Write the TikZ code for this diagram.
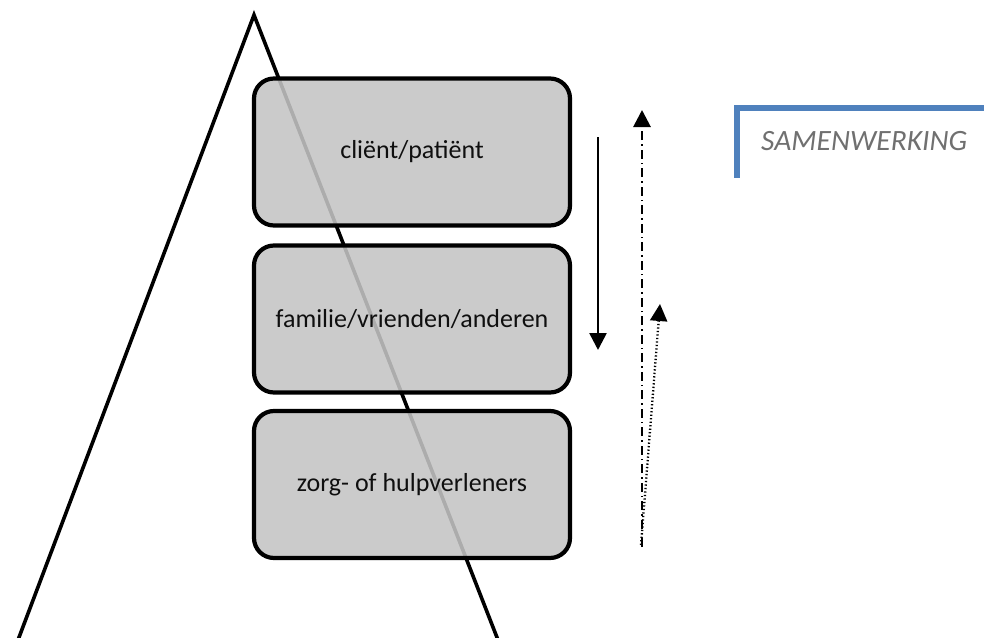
\documentclass[tikz,border=0pt]{standalone}
\usepackage{fontspec}
\setmainfont{Carlito}
\usetikzlibrary{arrows.meta}
\definecolor{boxgray}{RGB}{196,196,196}
\definecolor{txtdark}{RGB}{15,15,15}
\definecolor{labgray}{RGB}{112,112,112}
\definecolor{accentblue}{RGB}{79,129,189}
\tikzset{
  tri/.style={line width=3.6pt, line join=miter},
  levelbox/.style={draw=black, line width=4.2pt, fill=boxgray, fill opacity=0.88, text opacity=1,
    rounded corners=20pt, minimum width=316pt, minimum height=147pt, inner sep=0pt,
    text=txtdark, font=\fontsize{26}{30}\selectfont},
  head/.style={-{Triangle[length=17pt,width=17pt]}},
  flowsolid/.style={head, line width=2.6pt},
  flowdashdot/.style={head, line width=2.8pt, dash pattern=on 9pt off 4pt on 1.5pt off 4pt},
  flowdot/.style={head, line width=2.3pt, dash pattern=on 1.3pt off 2.2pt},
  tag/.style={text=labgray, font=\fontsize{29.5}{33}\selectfont\itshape, inner sep=0pt},
  bracket/.style={draw=accentblue, line cap=butt}
}
\begin{document}
\begin{tikzpicture}[x=1pt,y=-1pt]
\useasboundingbox (0,0) rectangle (984,637);
% pyramid
\coordinate (apex) at (254,15);
\coordinate (bl) at (18,640);
\coordinate (br) at (498,640);
\draw[tri] (bl) -- (apex) -- (br);
% boxes
\node[levelbox] (b1) at (412,152) {\raisebox{-2pt}{cliënt/patiënt}};
\node[levelbox] (b2) at (412,319) {\raisebox{-2pt}{familie/vrienden/anderen}};
\node[levelbox] (b3) at (412,484.5) {\raisebox{-2pt}{zorg- of hulpverleners}};
% arrows
\coordinate (s1) at (598,137);
\coordinate (s2) at (598,350);
\draw[flowsolid] (s1) -- (s2);
\coordinate (d1) at (642,547);
\coordinate (d2) at (642,110);
\draw[flowdashdot] (d1) -- (d2);
\coordinate (p1) at (641,545);
\coordinate (p2) at (660,304);
\draw[flowdot] (p1) -- (p2);
% label
\coordinate (bv1) at (737,105);
\coordinate (bv2) at (737,178);
\coordinate (bh1) at (734,108);
\coordinate (bh2) at (984,108);
\draw[bracket, line width=6.5pt] (bv1) -- (bv2);
\draw[bracket, line width=5.5pt] (bh1) -- (bh2);
\node[tag, anchor=west] (lab) at (761,141) {SAMENWERKING};
\end{tikzpicture}
\end{document}
